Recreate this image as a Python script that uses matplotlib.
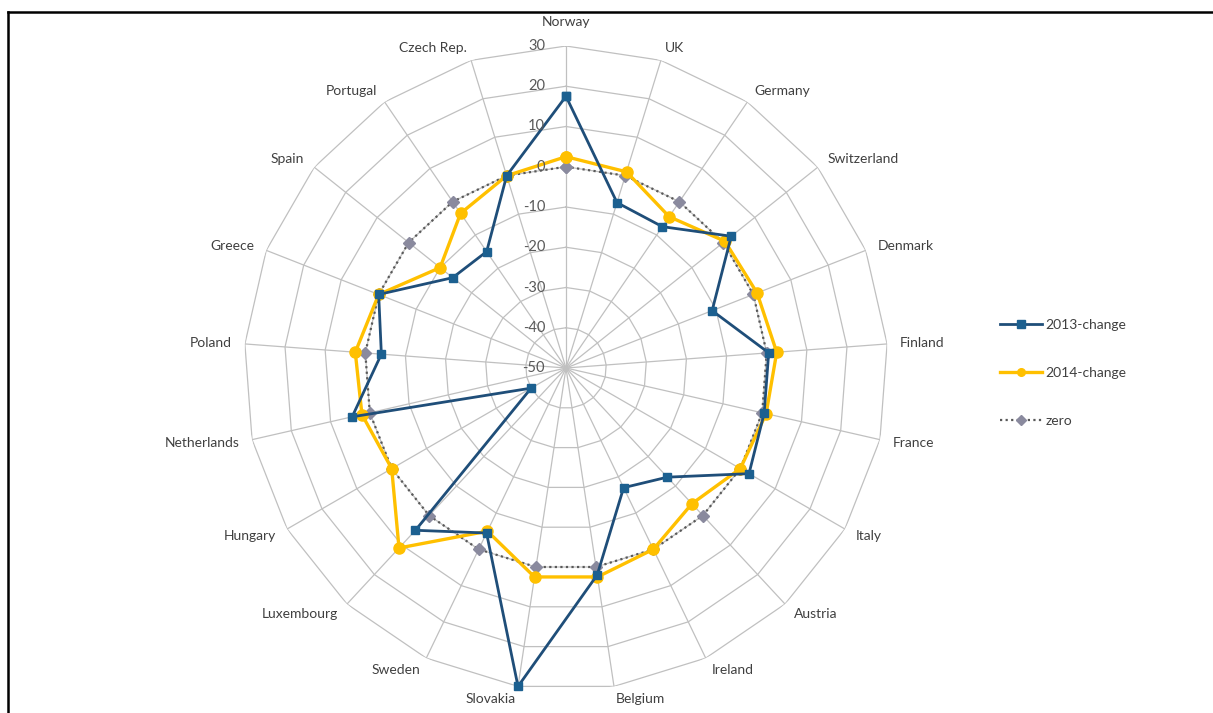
import numpy as np
import matplotlib
matplotlib.use("Agg")
import matplotlib.pyplot as plt
from matplotlib.lines import Line2D

# ---------------- data ----------------
categories = ["Norway", "UK", "Germany", "Switzerland", "Denmark", "Finland",
              "France", "Italy", "Austria", "Ireland", "Belgium", "Slovakia",
              "Sweden", "Luxembourg", "Hungary", "Netherlands", "Poland",
              "Greece", "Spain", "Portugal", "Czech Rep."]
change_2013 = [17.5, -7, -7.5, 2.5, -11, 0.5, 0.5, 2.5, -13, -17, 2, 30,
               -4.5, 5, -40, 4.5, -4, 0, -14, -15, 0]
change_2014 = [2.5, 1, -4.5, 0.5, 1, 2.5, 1, 0, -4, 0, 2.5, 2.5,
               -5, 11, 0, 2, 2.5, 0, -10, -3.5, 0]
zero = [0] * 21
r_ticks = [30, 20, 10, 0, -10, -20, -30, -40, -50]
series_names = ["2013-change", "2014-change", "zero"]
r_min, r_max = -50, 30

# ---------------- styles ----------------
plt.rcParams["font.family"] = ["Lato", "DejaVu Sans"]
TXT = "#404040"
GRID = "#c0c0c0"
C13_LINE = "#1f4e79"
C13_MARK = "#1c6090"
C14 = "#ffc000"
CZ_LINE = "#595959"
CZ_MARK = "#8a8a9e"

fig = plt.figure(figsize=(12.13, 7.13), dpi=100)
W, H = 1213, 713
cx, cy, R = 566, 368, 322
ax = fig.add_axes([(cx - R) / W, (H - cy - R) / H, 2 * R / W, 2 * R / H],
                  projection="polar")
ax.set_theta_zero_location("N")
ax.set_theta_direction(-1)
ax.set_ylim(r_min, r_max)
ax.grid(False)
ax.set_xticks([])
ax.set_yticks([])
ax.spines["polar"].set_visible(False)
ax.patch.set_alpha(0)

n = len(categories)
theta = np.arange(n) * 2 * np.pi / n
theta_c = np.append(theta, theta[0])

# polygon grid
for lev in r_ticks[:-1]:
    ax.plot(theta_c, [lev] * (n + 1), color=GRID, lw=0.9, zorder=1)
for t in theta:
    ax.plot([t, t], [r_min, r_max], color=GRID, lw=0.9, zorder=1)

def closed(v):
    return list(v) + [v[0]]

l13, = ax.plot(theta_c, closed(change_2013), color=C13_LINE, lw=2.0,
               marker="s", ms=6, mfc=C13_MARK, mec=C13_MARK, zorder=4,
               clip_on=False, label=series_names[0])
l14, = ax.plot(theta_c, closed(change_2014), color=C14, lw=2.4,
               marker="o", ms=8, mfc=C14, mec=C14, zorder=3,
               clip_on=False, label=series_names[1])
lz, = ax.plot(theta_c, closed(zero), color=CZ_LINE, lw=1.6, ls=(0, (1, 1.5)),
              marker="D", ms=6, mfc=CZ_MARK, mec=CZ_MARK, zorder=2,
              clip_on=False, label=series_names[2])

# radial tick labels
for v in r_ticks:
    ax.annotate(str(v), xy=(0, v), xytext=(-21, 0), textcoords="offset pixels",
                ha="right", va="center", fontsize=10.5, color="#595959",
                zorder=5, annotation_clip=False)

# category labels
for t, name in zip(theta, categories):
    s, c = np.sin(t), np.cos(t)
    if abs(s) < 0.05:
        ha = "center"
        va = "bottom" if c > 0 else "top"
        d = 18
    else:
        ha = "left" if s > 0 else "right"
        va = "center"
        d = 13
    ax.annotate(name, xy=(t, r_max), xytext=(d * s, d * c),
                textcoords="offset pixels", ha=ha, va=va, fontsize=10,
                color=TXT, annotation_clip=False)

# legend
leg = fig.legend(handles=[l13, l14, lz], loc="center left",
                 bbox_to_anchor=(1000 / W, 1 - 373 / H), frameon=False,
                 fontsize=10, handlelength=3.0, handletextpad=0.25,
                 labelspacing=2.6, borderpad=0, borderaxespad=0)
for txt in leg.get_texts():
    txt.set_color(TXT)
for h in leg.legend_handles:
    h.set_markersize(5.5)

# frame lines (top and left)
fig.add_artist(Line2D([7.5 / W, 1.0], [1 - 11.5 / H, 1 - 11.5 / H],
                      color="black", lw=1.8, transform=fig.transFigure))
fig.add_artist(Line2D([7.5 / W, 7.5 / W], [1 - 11.5 / H, 0.0],
                      color="black", lw=1.8, transform=fig.transFigure))

fig.savefig("out.png", dpi=100)
